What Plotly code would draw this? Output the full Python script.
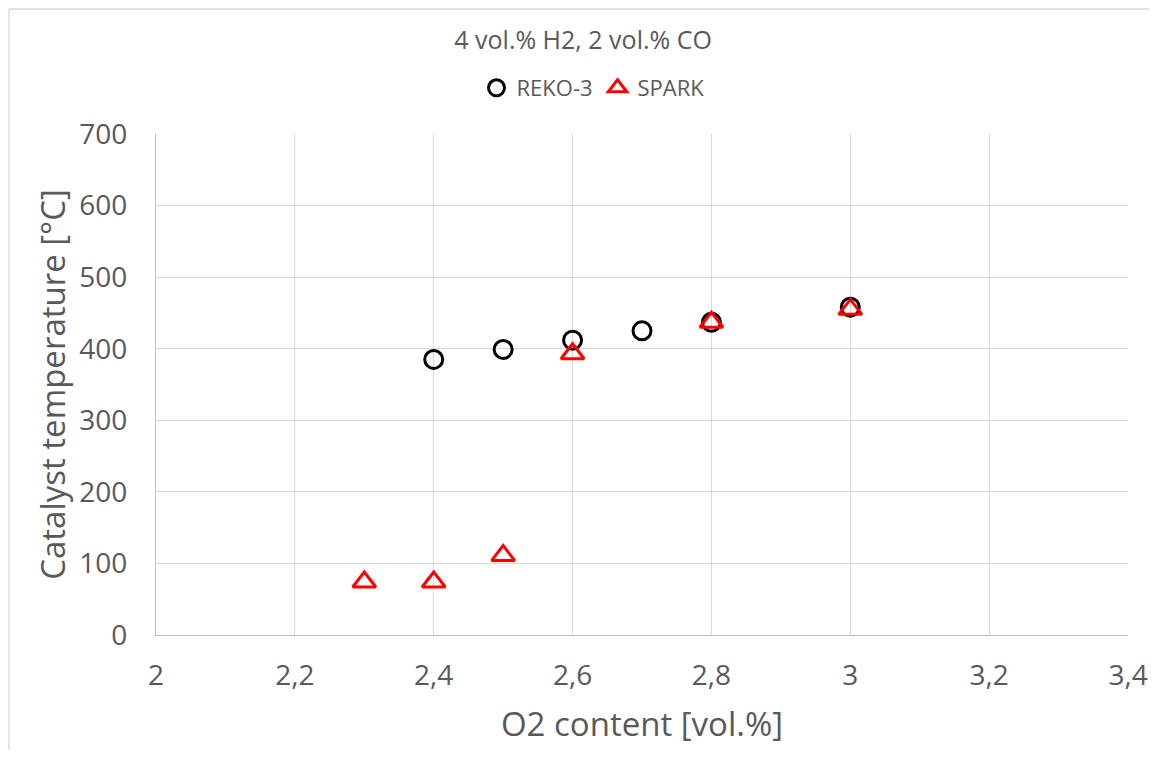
import plotly.graph_objects as go

reko_x = [2.4, 2.5, 2.6, 2.7, 2.8, 3.0]
reko_y = [385, 399, 412, 425, 437, 458]
spark_x = [2.3, 2.4, 2.5, 2.6, 2.8, 3.0]
spark_y = [74, 74, 111, 393, 437, 455]

title_text = "4 vol.% H2, 2 vol.% CO"
x_title = "O2 content [vol.%]"
y_title = "Catalyst temperature [°C]"
x_ticks = [2, 2.2, 2.4, 2.6, 2.8, 3, 3.2, 3.4]
x_ticklabels = ["2", "2,2", "2,4", "2,6", "2,8", "3", "3,2", "3,4"]
y_ticks = [0, 100, 200, 300, 400, 500, 600, 700]

font_family = "Open Sans, Liberation Sans, sans-serif"
gray = "#595959"

W, H = 1141, 742
L, R, T, B = 148, 21, 126, 115
pw, ph = W - L - R, H - T - B

fig = go.Figure()
fig.add_trace(go.Scatter(
    x=reko_x, y=reko_y, mode="markers", name="REKO-3",
    marker=dict(symbol="circle-open", size=18, color="black", line=dict(width=3, color="black")),
))
fig.add_trace(go.Scatter(
    x=spark_x, y=spark_y, mode="markers", name="SPARK",
    marker=dict(symbol="triangle-up-open", size=20, color="#ff0000", line=dict(width=3, color="#ff0000")),
))

fig.update_layout(
    width=W, height=H,
    margin=dict(l=L, r=R, t=T, b=B),
    paper_bgcolor="white", plot_bgcolor="white",
    font=dict(family=font_family, color=gray),
    title=dict(text=title_text, x=0.504, xanchor="center", y=1 - 32 / H, yanchor="middle",
               font=dict(size=25, color=gray)),
    legend=dict(orientation="h", x=(593 - 156) / pw, xanchor="center", y=(627 - 80) / ph, yanchor="middle",
                font=dict(size=22, color=gray), itemwidth=30, tracegroupgap=0),
    showlegend=True,
)
fig.update_xaxes(
    range=[2, 3.4], tickvals=x_ticks, ticktext=x_ticklabels, automargin=False,
    showgrid=True, gridcolor="#d9d9d9", gridwidth=1.3,
    showline=True, linecolor="#bfbfbf", linewidth=1.3, zeroline=False,
    tickfont=dict(size=28, color=gray), ticks="", ticklabelstandoff=15,
    title=dict(text=x_title, font=dict(size=33, color=gray), standoff=21),
)
fig.update_yaxes(
    range=[0, 700], tickvals=y_ticks, automargin=False,
    showgrid=True, gridcolor="#d9d9d9", gridwidth=1.3,
    showline=True, linecolor="#bfbfbf", linewidth=1.3, zeroline=False,
    tickfont=dict(size=28, color=gray), ticks="", ticklabelstandoff=22,
    title=dict(text=y_title, font=dict(size=33, color=gray), standoff=3),
)
# outer chart-area frame (only top and left edges visible in the reference)
fig.add_shape(type="line", xref="paper", yref="paper",
              x0=-(L - 1) / pw, x1=(W - L) / pw, y0=1 + (T - 1) / ph, y1=1 + (T - 1) / ph,
              line=dict(color="#d9d9d9", width=1.3), layer="below")
fig.add_shape(type="line", xref="paper", yref="paper",
              x0=-(L - 1) / pw, x1=-(L - 1) / pw, y0=-B / ph, y1=1 + (T - 1) / ph,
              line=dict(color="#d9d9d9", width=1.3), layer="below")

fig.write_html("out.html")
